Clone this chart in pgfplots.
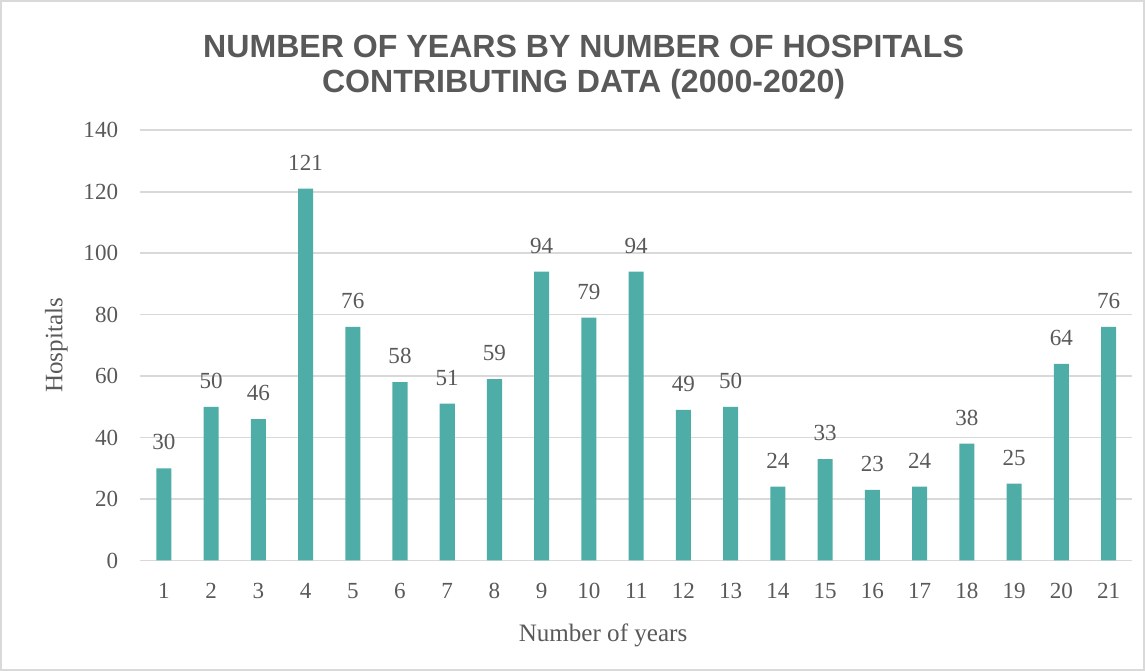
\documentclass[border=0pt]{standalone}
\usepackage{pgfplots}
\pgfplotsset{compat=1.18}
\usepackage{fontspec}
\setmainfont{Liberation Serif}
\newfontfamily\titlefont{Liberation Sans}
\definecolor{barteal}{HTML}{4FADA8}
\definecolor{txtgray}{HTML}{595959}
\definecolor{gridgray}{HTML}{D9D9D9}

\begin{document}
\begin{tikzpicture}
\begin{axis}[
  scale only axis,
  width=494.5pt, height=214.5pt,
  xmin=0.5, xmax=21.5, ymin=0, ymax=140,
  ytick={0,20,...,140}, xtick={1,...,21},
  /pgf/number format/assume math mode=true,
  axis line style={draw=none},
  major tick length=0pt,
  ymajorgrids,
  grid style={gridgray, line width=0.9pt},
  ybar, bar width=7.5pt,
  clip=false,
  tick label style={font=\fontsize{11.5}{13}\selectfont, text=txtgray},
  yticklabel style={xshift=-7.5pt},
  xticklabel style={yshift=-8pt},
  nodes near coords,
  every node near coord/.style={font=\fontsize{11.5}{13}\selectfont, text=txtgray, yshift=5.5pt},
  ylabel={Hospitals}, xlabel={Number of years},
  every axis y label/.style={at={(axis description cs:0,0.5)}, xshift=-41.75pt, rotate=90, anchor=center, font=\fontsize{12.5}{15}\selectfont, text=txtgray},
  every axis x label/.style={at={(axis description cs:0.4666,0)}, yshift=-37.5pt, anchor=center, font=\fontsize{12.5}{15}\selectfont, text=txtgray},
  title={NUMBER OF YEARS BY NUMBER OF HOSPITALS\\CONTRIBUTING DATA (2000-2020)},
  title style={at={(axis description cs:0.447,1)}, yshift=25.5pt, anchor=center, align=center, font=\titlefont\bfseries\fontsize{16}{17.5}\selectfont, text=txtgray},
]
\addplot[fill=barteal, draw=none] coordinates {
  (1,30) (2,50) (3,46) (4,121) (5,76) (6,58) (7,51)
  (8,59) (9,94) (10,79) (11,94) (12,49) (13,50) (14,24)
  (15,33) (16,23) (17,24) (18,38) (19,25) (20,64) (21,76)
};
\draw[gridgray, line width=0.8pt]
  ([shift={(-69.5pt,-54.5pt)}]rel axis cs:0,0) rectangle ([shift={(6pt,64.5pt)}]rel axis cs:1,1);
\end{axis}
\end{tikzpicture}
\end{document}
